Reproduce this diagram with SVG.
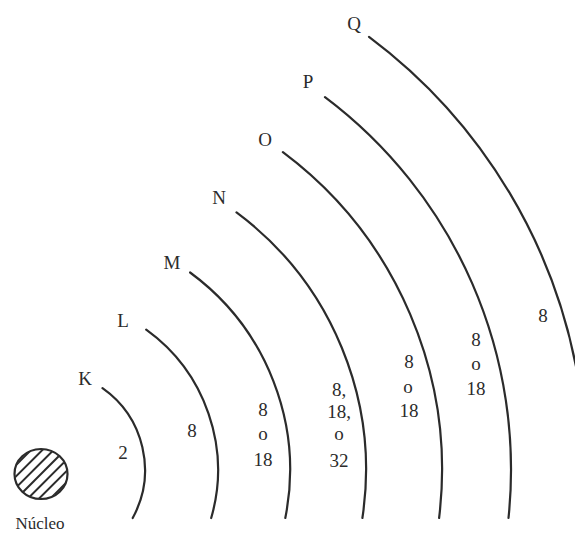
<svg xmlns="http://www.w3.org/2000/svg" width="575" height="533" viewBox="0 0 575 533">
<style>
.shell{fill:none;stroke:#2b2b2b;stroke-width:2.2;stroke-linecap:round}
.t{font-family:"Liberation Serif","Times New Roman",serif;font-size:19px;fill:#2b2b2b;text-anchor:middle}
.hatch{stroke:#2b2b2b;stroke-width:2}
</style>
<defs>
<clipPath id="nucClip"><ellipse cx="41" cy="474" rx="26" ry="24.5"/></clipPath>
</defs>
<rect width="575" height="533" fill="#ffffff"/>
<g id="nucleus">
<g clip-path="url(#nucClip)">
<line class="hatch" x1="2.8" y1="478.2" x2="45.2" y2="435.8"/>
<line class="hatch" x1="8.5" y1="483.9" x2="50.9" y2="441.5"/>
<line class="hatch" x1="14.1" y1="489.5" x2="56.5" y2="447.1"/>
<line class="hatch" x1="19.8" y1="495.2" x2="62.2" y2="452.8"/>
<line class="hatch" x1="25.5" y1="500.9" x2="67.9" y2="458.5"/>
<line class="hatch" x1="31.1" y1="506.5" x2="73.5" y2="464.1"/>
<line class="hatch" x1="36.8" y1="512.2" x2="79.2" y2="469.8"/>
</g>
<ellipse cx="41" cy="474" rx="26.5" ry="25" fill="none" stroke="#2b2b2b" stroke-width="2.2"/>
<text class="t" x="40" y="529" style="font-size:17px">Núcleo</text>
</g>
<g id="shell-K">
<path class="shell" d="M102.5,388.2 A100,100 0 0 1 132.7,518"/>
<text class="t" x="85" y="385">K</text>
<text class="t" x="123" y="459">2</text>
</g>
<g id="shell-L">
<path class="shell" d="M146.2,329.7 A173,173 0 0 1 211.2,518"/>
<text class="t" x="123" y="327">L</text>
<text class="t" x="192" y="437">8</text>
</g>
<g id="shell-M">
<path class="shell" d="M190.1,272.5 A245,245 0 0 1 285.3,518"/>
<text class="t" x="172" y="269">M</text>
<text class="t" x="263" y="416">8</text>
<text class="t" x="263" y="440">o</text>
<text class="t" x="263" y="466">18</text>
</g>
<g id="shell-N">
<path class="shell" d="M236.5,212.4 A321,321 0 0 1 362.4,518"/>
<text class="t" x="219" y="204">N</text>
<text class="t" x="339" y="396">8,</text>
<text class="t" x="339" y="418">18,</text>
<text class="t" x="339" y="440">o</text>
<text class="t" x="339" y="467">32</text>
</g>
<g id="shell-O">
<path class="shell" d="M282.9,152.2 A397,397 0 0 1 439.1,518"/>
<text class="t" x="265" y="146">O</text>
<text class="t" x="409" y="368">8</text>
<text class="t" x="408" y="393">o</text>
<text class="t" x="409" y="417">18</text>
</g>
<g id="shell-P">
<path class="shell" d="M325,97.1 A466,466 0 0 1 508.5,518"/>
<text class="t" x="308" y="88">P</text>
<text class="t" x="476" y="346">8</text>
<text class="t" x="476" y="370">o</text>
<text class="t" x="476" y="395">18</text>
</g>
<g id="shell-Q">
<path class="shell" d="M369,36.8 A541,541 0 0 1 580,389.7"/>
<text class="t" x="354" y="30">Q</text>
<text class="t" x="543" y="322">8</text>
</g>
<g id="connectors"></g>
</svg>
